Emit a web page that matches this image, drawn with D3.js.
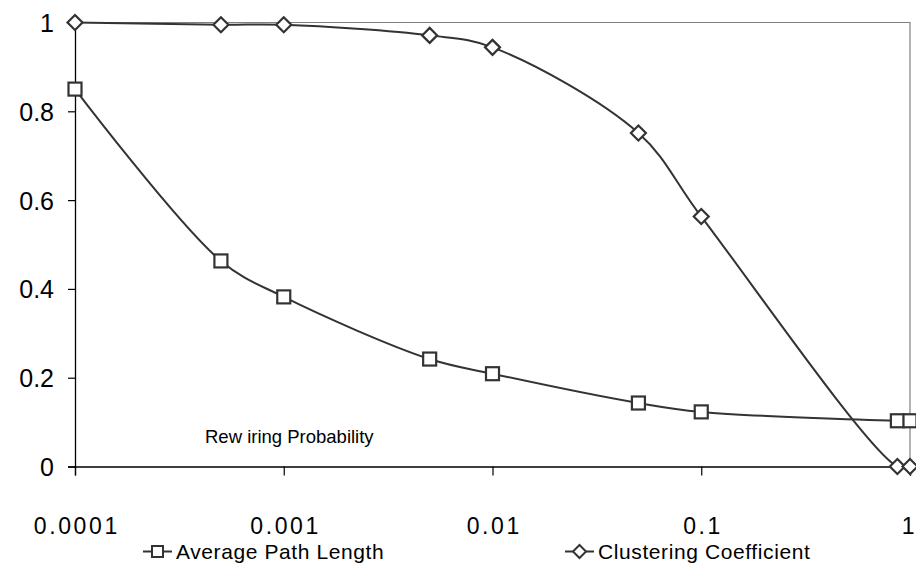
<!DOCTYPE html>
<html><head><meta charset="utf-8">
<script src="https://cdn.jsdelivr.net/npm/d3@7"></script>
<style>body{margin:0;background:#fff}svg{display:block}text{font-family:"Liberation Sans",Arial,sans-serif;fill:#000}</style>
</head><body><svg id="c" width="916" height="573"></svg>
<script>
const probabilities = [0.0001, 0.0005, 0.001, 0.005, 0.01, 0.05, 0.1, 0.87, 1];
const avgPathLength = [0.85, 0.463, 0.382, 0.242, 0.209, 0.143, 0.123, 0.103, 0.103];
const clusteringCoeff = [1.0, 0.995, 0.995, 0.971, 0.944, 0.751, 0.563, 0.0, 0.0];
const xTicks = [0.0001, 0.001, 0.01, 0.1, 1];
const xTickLabels = ["0.0001", "0.001", "0.01", "0.1", "1"];
const yTicks = [0, 0.2, 0.4, 0.6, 0.8, 1];
const seriesNames = ["Average Path Length", "Clustering Coefficient"];

const svg = d3.select("#c");
const L = 75, R = 910, T = 22.5, B = 466.5;
const x = d3.scaleLog().domain([0.0001, 1]).range([L, R]);
const y = d3.scaleLinear().domain([0, 1]).range([B, T]);
const FONT = '"Liberation Sans",Arial,sans-serif';

svg.append("path").attr("d", `M${L},${T}H${R}V${B}`).attr("fill","none").attr("stroke","#808080").attr("stroke-width",1.2);

const xa = svg.append("g").attr("transform",`translate(0,${B})`)
  .call(d3.axisBottom(x).tickValues(xTicks).tickFormat((d,i)=>xTickLabels[i]).tickSize(9).tickPadding(0));
const ya = svg.append("g").attr("transform",`translate(${L},0)`)
  .call(d3.axisLeft(y).tickValues(yTicks).tickFormat(d=>d===0||d===1?String(d):d.toFixed(1)).tickSize(7).tickPadding(14));
[xa, ya].forEach(g=>{
  g.select(".domain").attr("stroke","#000").attr("stroke-width",1.3);
  g.selectAll(".tick line").attr("stroke","#000").attr("stroke-width",1.2);
  g.selectAll("text").attr("font-family",FONT).attr("fill","#000");
});
const ls = 2.6;
xa.selectAll("text").attr("font-size",23).attr("letter-spacing",ls).attr("y",67.5).attr("dy","0").attr("dx",ls/2);
xa.selectAll(".tick").filter((d,i)=>i===xTicks.length-1).select("text").attr("text-anchor","end").attr("dx",4+ls);
ya.selectAll("text").attr("font-size",25).attr("dy","0.36em");

const line = d3.line().x(d=>x(d[0])).y(d=>y(d[1])).curve(d3.curveCatmullRom.alpha(0.5));
const stroke = "#333";
const apl = probabilities.map((p,i)=>[p, avgPathLength[i]]);
const cc = probabilities.map((p,i)=>[p, clusteringCoeff[i]]);

svg.append("path").datum(apl).attr("d",line).attr("fill","none").attr("stroke",stroke).attr("stroke-width",2);
svg.append("path").datum(cc).attr("d",line).attr("fill","none").attr("stroke",stroke).attr("stroke-width",2);

const sq = 13;
svg.selectAll(".sq").data(apl).join("rect")
  .attr("x",d=>x(d[0])-sq/2).attr("y",d=>y(d[1])-sq/2).attr("width",sq).attr("height",sq)
  .attr("fill","#fff").attr("stroke",stroke).attr("stroke-width",2.2);
const diamond = (cx,cy,r)=>`M${cx},${cy-r}L${cx+r},${cy}L${cx},${cy+r}L${cx-r},${cy}Z`;
svg.selectAll(".dm").data(cc).join("path")
  .attr("d",d=>diamond(x(d[0]),y(d[1]),7.5))
  .attr("fill","#fff").attr("stroke",stroke).attr("stroke-width",2.2);

svg.append("text").attr("x",205).attr("y",443).attr("font-size",18.5).text("Rew iring Probability");

const legend = [
  {name: seriesNames[0], x0: 143, shape: "sq"},
  {name: seriesNames[1], x0: 565, shape: "dm"}
];
const ly = 551.5;
legend.forEach(l=>{
  svg.append("line").attr("x1",l.x0).attr("x2",l.x0+29).attr("y1",ly).attr("y2",ly).attr("stroke",stroke).attr("stroke-width",2);
  const cx = l.x0+14.5;
  if(l.shape==="sq"){
    svg.append("rect").attr("x",cx-5.5).attr("y",ly-5.5).attr("width",11).attr("height",11).attr("fill","#fff").attr("stroke",stroke).attr("stroke-width",2);
  } else {
    svg.append("path").attr("d",diamond(cx,ly,6.5)).attr("fill","#fff").attr("stroke",stroke).attr("stroke-width",2);
  }
  svg.append("text").attr("x",l.x0+33).attr("y",ly+7.5).attr("font-size",21).attr("letter-spacing",0.6).text(l.name);
});
</script></body></html>
